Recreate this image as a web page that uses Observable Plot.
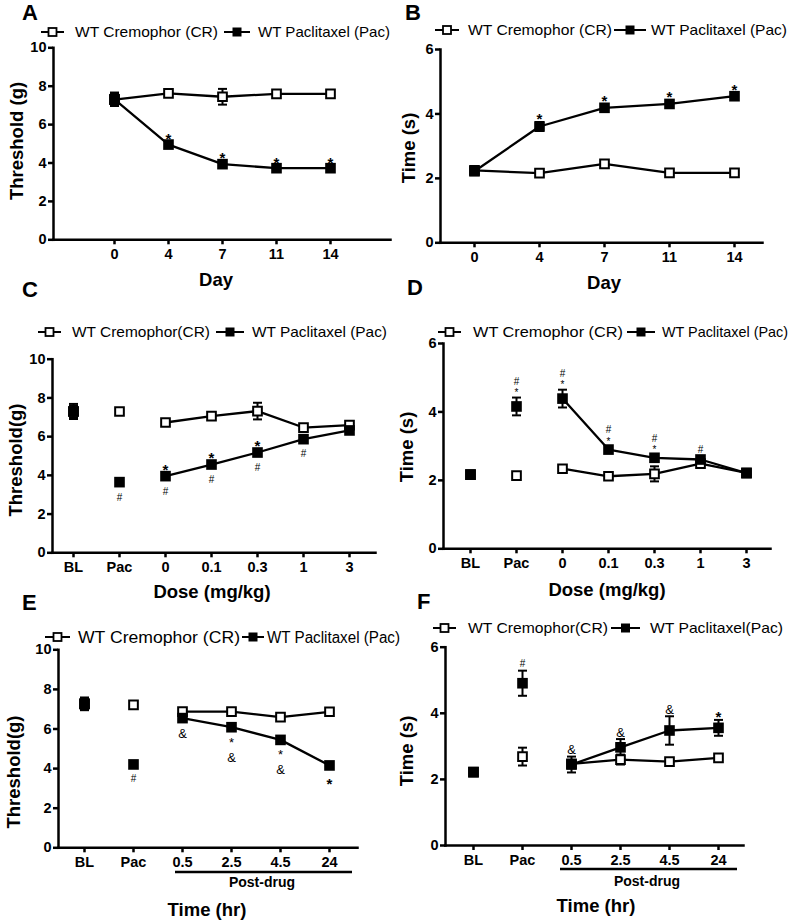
<!DOCTYPE html>
<html><head><meta charset="utf-8">
<script src="https://cdn.jsdelivr.net/npm/d3@7"></script>
<script src="https://cdn.jsdelivr.net/npm/@observablehq/plot@0.6"></script>
<style>
body{margin:0;background:#fff;}
#fig{position:relative;width:800px;height:922px;overflow:hidden;background:#fff;}
#fig svg{position:absolute;}
#fig g[aria-label="x-axis tick label"], #fig g[aria-label="y-axis tick label"]{font-size:14.5px;font-weight:bold;}
</style></head><body><div id="fig"></div>
<script>
// ---------------- DATA ----------------
// Panel A : mechanical threshold over days
const catsA = ["0", "4", "7", "11", "14"];
const crA = [7.30, 7.63, 7.45, 7.60, 7.60];
const crErrA = [0.30, 0.12, 0.41, 0.12, 0.12];
const pacA = [7.32, 4.96, 3.94, 3.73, 3.73];
const pacErrA = [0.35, 0.12, 0.15, 0.12, 0.12];
const aboveA = ["", "*", "*", "*", "*"];

// Panel B : latency over days
const catsB = ["0", "4", "7", "11", "14"];
const crB = [2.25, 2.16, 2.45, 2.17, 2.17];
const crErrB = [0.08, 0.08, 0.10, 0.08, 0.08];
const pacB = [2.22, 3.61, 4.19, 4.31, 4.55];
const pacErrB = [0.08, 0.14, 0.10, 0.10, 0.10];
const aboveB = ["", "*", "*", "*", "*"];

// Panel C : threshold vs dose
const catsC = ["BL", "Pac", "0", "0.1", "0.3", "1", "3"];
const crC = [7.30, 7.30, 6.73, 7.06, 7.32, 6.47, 6.59];
const crErrC = [0.30, 0.15, 0.15, 0.12, 0.43, 0.12, 0.12];
const pacC = [7.30, 3.65, 3.96, 4.56, 5.18, 5.87, 6.32];
const pacErrC = [0.39, 0.15, 0.15, 0.15, 0.15, 0.12, 0.18];
const aboveC = ["", "", "*", "*", "*", "", ""];
const belowC = ["", "#", "#", "#", "#", "#", ""];

// Panel D : latency vs dose
const catsD = ["BL", "Pac", "0", "0.1", "0.3", "1", "3"];
const crD = [2.17, 2.14, 2.34, 2.12, 2.19, 2.49, 2.22];
const crErrD = [0.08, 0.08, 0.08, 0.08, 0.22, 0.10, 0.08];
const pacD = [2.17, 4.16, 4.39, 2.90, 2.66, 2.61, 2.21];
const pacErrD = [0.08, 0.26, 0.26, 0.10, 0.10, 0.10, 0.10];
const aboveD = ["", "#\n*", "#\n*", "#\n*", "#\n*", "#", ""];

// Panel E : threshold vs time post-drug
const catsE = ["BL", "Pac", "0.5", "2.5", "4.5", "24"];
const crE = [7.27, 7.22, 6.88, 6.88, 6.60, 6.87];
const crErrE = [0.30, 0.15, 0.18, 0.10, 0.10, 0.10];
const pacE = [7.27, 4.21, 6.55, 6.09, 5.45, 4.16];
const pacErrE = [0.32, 0.10, 0.15, 0.10, 0.10, 0.15];
const belowE = ["", "#", "&", "*\n&", "*\n&", "*"];

// Panel F : latency vs time post-drug
const catsF = ["BL", "Pac", "0.5", "2.5", "4.5", "24"];
const crF = [2.22, 2.69, 2.47, 2.60, 2.54, 2.65];
const crErrF = [0.08, 0.27, 0.10, 0.15, 0.08, 0.10];
const pacF = [2.22, 4.91, 2.45, 2.97, 3.48, 3.56];
const pacErrF = [0.08, 0.38, 0.24, 0.25, 0.43, 0.24];
const aboveF = ["", "#", "&", "&", "&", "*"];

// Texts
const letters = ["A", "B", "C", "D", "E", "F"];
const legendCR = ["WT Cremophor (CR)", "WT Cremophor (CR)", "WT Cremophor(CR)", "WT Cremophor (CR)", "WT Cremophor (CR)", "WT Cremophor(CR)"];
const legendPac = ["WT Paclitaxel (Pac)", "WT Paclitaxel (Pac)", "WT Paclitaxel (Pac)", "WT Paclitaxel (Pac)", "WT Paclitaxel (Pac)", "WT Paclitaxel(Pac)"];
const yTitles = ["Threshold (g)", "Time (s)", "Threshold(g)", "Time (s)", "Threshold(g)", "Time (s)"];
const xTitles = ["Day", "Day", "Dose (mg/kg)", "Dose (mg/kg)", "Time (hr)", "Time (hr)"];
const bracketLabel = "Post-drug";

// ---------------- LAYOUT ----------------
const FONT = "'Liberation Sans', Arial, Helvetica, sans-serif";
const layouts = [
  {left:0, axisX:53, axisEnd:390, yTop:47.3, y0:239.3, yMax:10, ticks:[0,2,4,6,8,10], pad:1.092, align:0.5,
   letter:[22,20], legY:32, g1:[41,64], t1:[75,143], g2:[224,250], t2:[258,132], legSize:15, yT:[23,141], xT:[216,286]},
  {left:400, axisX:440, axisEnd:762, yTop:49, y0:242.3, yMax:6, ticks:[0,2,4,6], pad:0.458, align:0.55,
   letter:[405,20], legY:30, g1:[435,459], t1:[468,144], g2:[614,646], t2:[651,136], legSize:15, yT:[415,148], xT:[604,289]},
  {left:0, axisX:52, axisEnd:375, yTop:358.7, y0:552.3, yMax:10, ticks:[0,2,4,6,8,10], pad:0.51, align:0.447,
   letter:[22,297], legY:332, g1:[38,61], t1:[72,138], g2:[216,244], t2:[252,135], legSize:15, yT:[22,460], xT:[212,598]},
  {left:400, axisX:443, axisEnd:770, yTop:343, y0:548.3, yMax:6, ticks:[0,2,4,6], pad:0.516, align:0.52,
   letter:[407,295], legY:332, g1:[438,461], t1:[473,150], g2:[627,655], t2:[662,126], legSize:15, yT:[413,447], xT:[607,596]},
  {left:0, axisX:58, axisEnd:357, yTop:649.3, y0:847.3, yMax:10, ticks:[0,2,4,6,8,10], pad:0.502, align:0.48,
   letter:[22,610], legY:637, g1:[45,70], t1:[78,162], g2:[242,264], t2:[267,133], legSize:16, yT:[20,772], xT:[207,916],
   bracket:{x1:175, x2:352, y:872, tx:262, ty:887}},
  {left:400, axisX:445, axisEnd:743, yTop:646.7, y0:845, yMax:6, ticks:[0,2,4,6], pad:0.516, align:0.53,
   letter:[417,609], legY:628, g1:[433,456], t1:[468,140], g2:[611,640], t2:[650,133], legSize:15, yT:[413,751], xT:[596,912],
   bracket:{x1:560, x2:737, y:869, tx:647, ty:886}}
];

const panels = [
  {cats:catsA, cr:crA, crErr:crErrA, pac:pacA, pacErr:pacErrA, above:aboveA, below:null, lineFrom:0},
  {cats:catsB, cr:crB, crErr:crErrB, pac:pacB, pacErr:pacErrB, above:aboveB, below:null, lineFrom:0},
  {cats:catsC, cr:crC, crErr:crErrC, pac:pacC, pacErr:pacErrC, above:aboveC, below:belowC, lineFrom:2},
  {cats:catsD, cr:crD, crErr:crErrD, pac:pacD, pacErr:pacErrD, above:aboveD, below:null, lineFrom:2},
  {cats:catsE, cr:crE, crErr:crErrE, pac:pacE, pacErr:pacErrE, above:null, below:belowE, lineFrom:2},
  {cats:catsF, cr:crF, crErr:crErrF, pac:pacF, pacErr:pacErrF, above:aboveF, below:null, lineFrom:2}
];

const capSymbol = {draw(ctx) { ctx.moveTo(-4.5, 0); ctx.lineTo(4.5, 0); }};
// visual centre of each glyph relative to its baseline (em)
const glyphCenter = {"*": -0.575, "#": -0.35, "&": -0.36};
// font size / weight / line height of each annotation string
const annStyle = s => s === "#" ? {fs:10, w:"normal"}
  : s === "&" ? {fs:13, w:"normal"}
  : s === "*" ? {fs:15, w:"bold"}
  : s.includes("#") ? {fs:10, w:"normal"} : {fs:13, w:"normal"};
const LH = 1.15;

const fig = document.getElementById("fig");

function buildPanel(d, L) {
  const mk = (vals, errs) => d.cats.map((c, i) => ({cat:c, i, v:vals[i], e:errs[i]}));
  const cr = mk(d.cr, d.crErr), pac = mk(d.pac, d.pacErr);
  const svgTop = Math.round(L.yTop) - 24;
  const svgBottom = Math.round(L.y0) + 30;
  const height = svgBottom - svgTop;

  // annotations: one text element per annotation string, grouped by string for offsets
  const annMarks = [];
  for (const side of ["above", "below"]) {
    const arr = side === "above" ? d.above : d.below;
    if (!arr) continue;
    const rows = arr.map((s, i) => ({cat:d.cats[i], t:s, y: side === "above" ? d.pac[i] + d.pacErr[i] : d.pac[i] - d.pacErr[i]}))
      .filter(r => r.t);
    for (const s of [...new Set(rows.map(r => r.t))]) {
      const lines = s.split("\n");
      const {fs, w} = annStyle(s);
      let dy;
      if (side === "above") {
        dy = -7 - glyphCenter[lines[lines.length - 1]] * fs;
      } else {
        const gap = lines.length > 1 ? 10 : 12;
        dy = gap - glyphCenter[lines[0]] * fs + (lines.length - 1) * LH * fs;
      }
      annMarks.push(Plot.text(rows.filter(r => r.t === s), {
        x:"cat", y:"y", text:"t", dy, lineAnchor:"bottom", lineHeight:LH,
        fontSize:fs, fontWeight:w, fill:"black"
      }));
    }
  }

  const errMarks = rows => [
    Plot.ruleX(rows, {x:"cat", y1:r => r.v - r.e, y2:r => r.v + r.e, stroke:"black", strokeWidth:2}),
    Plot.dot(rows, {x:"cat", y:r => r.v + r.e, symbol:capSymbol, fill:"none", stroke:"black", strokeWidth:2}),
    Plot.dot(rows, {x:"cat", y:r => r.v - r.e, symbol:capSymbol, fill:"none", stroke:"black", strokeWidth:2})
  ];

  const svg = Plot.plot({
    width: 400,
    height,
    marginLeft: L.axisX - L.left,
    marginRight: L.left + 400 - L.axisEnd,
    marginTop: L.yTop - svgTop,
    marginBottom: svgBottom - L.y0,
    style: {fontFamily: FONT, fontSize: "14px", background: "transparent", overflow: "visible", color: "black"},
    x: {type: "point", domain: d.cats, padding: L.pad, align: L.align, label: null},
    y: {domain: [0, L.yMax], label: null},
    marks: [
      ...errMarks(cr),
      Plot.line(cr.filter(r => r.i >= d.lineFrom), {x:"cat", y:"v", stroke:"black", strokeWidth:2.3}),
      ...errMarks(pac),
      Plot.line(pac.filter(r => r.i >= d.lineFrom), {x:"cat", y:"v", stroke:"black", strokeWidth:2.3}),
      Plot.dot(cr, {x:"cat", y:"v", symbol:"square", r:4.9, fill:"white", stroke:"black", strokeWidth:2}),
      Plot.dot(pac, {x:"cat", y:"v", symbol:"square", r:6, fill:"black"}),
      ...annMarks,
      Plot.axisX({tickSize:5, tickPadding:4, strokeWidth:2.5, fontSize:14.5, fontWeight:"bold", label:null}),
      Plot.axisY({ticks:L.ticks, tickFormat:v => String(v), tickSize:5, tickPadding:2, strokeWidth:2.5, fontSize:14.5, fontWeight:"bold", label:null}),
      Plot.frame({anchor:"left", strokeWidth:2.5, strokeLinecap:"square"}),
      Plot.frame({anchor:"bottom", strokeWidth:2.5, strokeLinecap:"square"})
    ]
  });
  svg.style.left = L.left + "px";
  svg.style.top = svgTop + "px";
  fig.appendChild(svg);
}

panels.forEach((d, i) => buildPanel(d, layouts[i]));

// ---------------- overlay texts (legends, titles, letters) ----------------
const ov = d3.create("svg").attr("width", 800).attr("height", 922)
  .style("left", "0px").style("top", "0px").style("font-family", FONT);

layouts.forEach((L, p) => {
  ov.append("text").attr("x", L.letter[0]).attr("y", L.letter[1])
    .attr("font-size", 22).attr("font-weight", "bold").text(letters[p]);

  const glyph = (g, filled) => {
    const cx = (g[0] + g[1]) / 2;
    ov.append("line").attr("x1", g[0]).attr("x2", g[1]).attr("y1", L.legY).attr("y2", L.legY)
      .attr("stroke", "black").attr("stroke-width", 2);
    const s = filled ? 9 : 8;
    ov.append("rect").attr("x", cx - s / 2).attr("y", L.legY - s / 2).attr("width", s).attr("height", s)
      .attr("fill", filled ? "black" : "white").attr("stroke", "black").attr("stroke-width", filled ? 0 : 1.8);
  };
  glyph(L.g1, false);
  glyph(L.g2, true);
  const base = L.legY + L.legSize * 0.36;
  ov.append("text").attr("x", L.t1[0]).attr("y", base).attr("font-size", L.legSize)
    .attr("textLength", L.t1[1]).attr("lengthAdjust", "spacingAndGlyphs").text(legendCR[p]);
  ov.append("text").attr("x", L.t2[0]).attr("y", base).attr("font-size", L.legSize)
    .attr("textLength", L.t2[1]).attr("lengthAdjust", "spacingAndGlyphs").text(legendPac[p]);

  ov.append("text").attr("transform", `translate(${L.yT[0]},${L.yT[1]}) rotate(-90)`)
    .attr("text-anchor", "middle").attr("font-size", 18.5).attr("font-weight", "bold").text(yTitles[p]);
  ov.append("text").attr("x", L.xT[0]).attr("y", L.xT[1])
    .attr("text-anchor", "middle").attr("font-size", 18.5).attr("font-weight", "bold").text(xTitles[p]);

  if (L.bracket) {
    const b = L.bracket;
    ov.append("line").attr("x1", b.x1).attr("x2", b.x2).attr("y1", b.y).attr("y2", b.y)
      .attr("stroke", "black").attr("stroke-width", 2.5);
    ov.append("text").attr("x", b.tx).attr("y", b.ty).attr("text-anchor", "middle")
      .attr("font-size", 14).attr("font-weight", "bold").text(bracketLabel);
  }
});
fig.appendChild(ov.node());
</script></body></html>
